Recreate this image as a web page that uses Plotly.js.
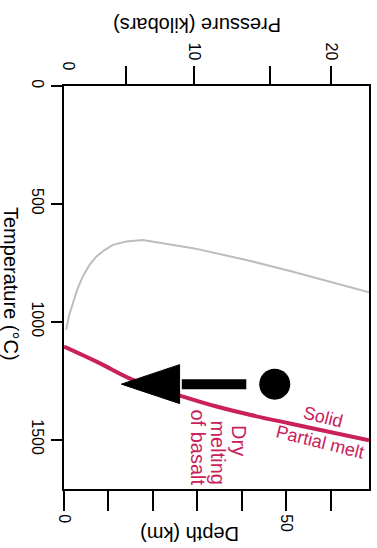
<!DOCTYPE html>
<html>
<head>
<meta charset="utf-8">
<script src="https://cdn.plot.ly/plotly-3.0.1.min.js"></script>
<style>html,body{margin:0;padding:0;background:#fff;}#chart{width:377px;height:548px;}</style>
</head>
<body>
<div id="chart"></div>
<script>
// ---- data ----
const geothermDepthKm = [0.5, 1.08, 2.0, 3.1, 4.2, 5.74, 7.25, 9.12, 11.0, 14.0, 17.75, 29.0, 41.0, 51.5, 68.6];
const geothermTempC   = [1035, 978, 922, 858, 809, 759, 724, 696, 674, 660, 653, 688, 738, 788, 875];

const solidusDepthKm = [0, 8.0, 15.5, 26.8, 34.3, 41.8, 50.8, 68.6];
const solidusTempC   = [1106, 1176, 1247, 1318, 1360, 1395, 1432, 1503];

// ascent path: start (circle) and arrow tip
const pathDepthKm = [47.4, 12.9];
const pathTempC   = [1265, 1265];

const depthTicks = [0, 10, 20, 30, 40, 50, 60];
const depthTickText = ['0', '', '', '', '', '50', ''];
const tempTicks = [0, 500, 1000, 1500];
const tempTickText = ['0', '500', '1000', '1500'];
const pressureTicks = [0, 5, 10, 15, 20];
const pressureTickDepthKm = [0, 14.0, 29.3, 46.3, 60.0];
const pressureTickText = ['0', '', '10', '', '20'];

// ---- style ----
const CRIMSON = '#c9215b';
const FONT = 'Liberation Sans, Arial, Helvetica, sans-serif';
const headLenKm = 13.1, headHalfC = 82.7, shaftGapKm = 6.4;

const x0 = pathDepthKm[0], y0 = pathTempC[0];
const xt = pathDepthKm[1], yt = pathTempC[1];
const baseX = xt + headLenKm;

const traces = [
  {x: geothermDepthKm, y: geothermTempC, mode: 'lines', line: {color: '#bdbdbd', width: 2}, hoverinfo: 'skip'},
  {x: solidusDepthKm, y: solidusTempC, mode: 'lines', line: {color: CRIMSON, width: 4, shape: 'spline'}, hoverinfo: 'skip'},
  {x: [x0 - shaftGapKm, baseX + 0.5], y: [y0, yt], mode: 'lines', line: {color: '#000', width: 10}, hoverinfo: 'skip'},
  {x: [xt, baseX, baseX, xt], y: [yt, yt - headHalfC, yt + headHalfC, yt], mode: 'lines', fill: 'toself', fillcolor: '#000', line: {color: '#000', width: 1}, hoverinfo: 'skip'},
  {x: [x0], y: [y0], mode: 'markers', marker: {color: '#000', size: 31}, hoverinfo: 'skip'},
  {x: [0], y: [0], xaxis: 'x2', mode: 'markers', marker: {opacity: 0}, hoverinfo: 'skip'}
];

const xRange = [0, 68.6];
const layout = {
  width: 377, height: 548,
  margin: {l: 64, r: 8, t: 86, b: 59},
  showlegend: false,
  paper_bgcolor: '#fff', plot_bgcolor: '#fff',
  font: {family: FONT, size: 16, color: '#000'},
  xaxis: {
    range: xRange, showgrid: false, zeroline: false,
    showline: true, mirror: true, linecolor: '#000', linewidth: 2,
    ticks: 'outside', ticklen: 20, tickwidth: 2, tickcolor: '#000',
    tickvals: depthTicks, ticktext: depthTickText, tickangle: 90,
    tickfont: {size: 16, family: FONT}
  },
  xaxis2: {
    overlaying: 'x', side: 'top', range: xRange, showgrid: false, zeroline: false,
    showline: false, ticks: 'outside', ticklen: 19, tickwidth: 2, tickcolor: '#000',
    tickvals: pressureTickDepthKm.slice(1), ticktext: pressureTickText.slice(1), tickangle: 90,
    tickfont: {size: 16, family: FONT}
  },
  yaxis: {
    range: [1710, 0], showgrid: false, zeroline: false,
    showline: true, mirror: true, linecolor: '#000', linewidth: 2,
    ticks: 'outside', ticklen: 11, tickwidth: 2, tickcolor: '#000',
    tickvals: tempTicks, ticktext: tempTickText, tickangle: 90,
    tickfont: {size: 16, family: FONT}
  },
  annotations: [
    {xref: 'paper', yref: 'paper', x: (197.5 - 64) / 305, y: 1 + (86 - 25) / 403, text: 'Pressure (kilobars)', textangle: 180, showarrow: false, font: {size: 20}, xanchor: 'center', yanchor: 'middle'},
    {xref: 'paper', yref: 'paper', x: (190 - 64) / 305, y: -(534 - 489) / 403, text: 'Depth (km)', textangle: 180, showarrow: false, font: {size: 20}, xanchor: 'center', yanchor: 'middle'},
    {xref: 'paper', yref: 'paper', x: (11 - 64) / 305, y: 1 - (284 - 86) / 403, text: 'Temperature (°C)', textangle: 90, showarrow: false, font: {size: 20}, xanchor: 'center', yanchor: 'middle'},
    {xref: 'x', yref: 'paper', x: pressureTickDepthKm[0] + 1, y: 1 + (86 - 66) / 403, text: pressureTickText[0], textangle: 90, showarrow: false, font: {size: 16}, xanchor: 'center', yanchor: 'middle'},
    {xref: 'x', yref: 'y', x: 58.2, y: 1406, text: 'Solid', textangle: 14, showarrow: false, font: {size: 18, color: CRIMSON}},
    {xref: 'x', yref: 'y', x: 57.5, y: 1512, text: 'Partial melt', textangle: 14, showarrow: false, font: {size: 18, color: CRIMSON}},
    {xref: 'x', yref: 'y', x: 39.5, y: 1505, text: 'Dry', textangle: 90, showarrow: false, font: {size: 20, color: CRIMSON}},
    {xref: 'x', yref: 'y', x: 34.6, y: 1554, text: 'melting', textangle: 90, showarrow: false, font: {size: 20, color: CRIMSON}},
    {xref: 'x', yref: 'y', x: 30.1, y: 1533, text: 'of basalt', textangle: 90, showarrow: false, font: {size: 20, color: CRIMSON}}
  ]
};

Plotly.newPlot('chart', traces, layout, {displayModeBar: false, staticPlot: true});
</script>
</body>
</html>
